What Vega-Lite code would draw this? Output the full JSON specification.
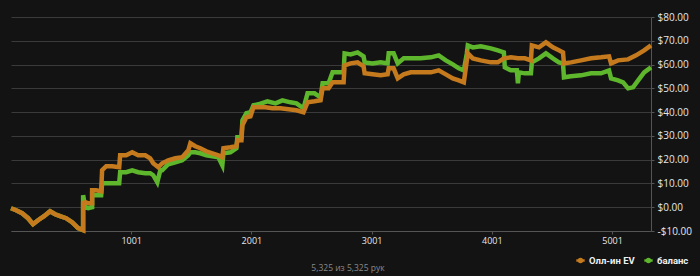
{
  "$schema": "https://vega.github.io/schema/vega-lite/v6.json",
  "width": 640,
  "height": 214,
  "autosize": {"type": "none"},
  "padding": {"left": 11, "top": 17, "right": 49, "bottom": 45},
  "background": "#131313",
  "title": {"text": "5,325 из 5,325 рук", "orient": "bottom", "anchor": "middle", "dx": 17, "offset": -3, "fontSize": 8.5, "fontWeight": "normal", "color": "#8a8a8a", "font": "Open Sans"},
  "config": {
    "view": {"stroke": null},
    "font": "Open Sans",
    "axis": {"labelFont": "Open Sans", "labelColor": "#e6e6e6", "labelFontSize": 10, "domainColor": "#555555", "tickColor": "#555555", "gridColor": "#3a3a3a", "title": null}
  },
  "datasets": {
    "hands": [
      {"hand": 1, "series": "Олл-ин EV", "value": -0.42},
      {"hand": 43, "series": "Олл-ин EV", "value": -1.26},
      {"hand": 93, "series": "Олл-ин EV", "value": -2.52},
      {"hand": 143, "series": "Олл-ин EV", "value": -4.62},
      {"hand": 184, "series": "Олл-ин EV", "value": -7.14},
      {"hand": 226, "series": "Олл-ин EV", "value": -5.46},
      {"hand": 276, "series": "Олл-ин EV", "value": -3.78},
      {"hand": 326, "series": "Олл-ин EV", "value": -1.68},
      {"hand": 368, "series": "Олл-ин EV", "value": -2.94},
      {"hand": 409, "series": "Олл-ин EV", "value": -3.78},
      {"hand": 459, "series": "Олл-ин EV", "value": -4.62},
      {"hand": 509, "series": "Олл-ин EV", "value": -6.30},
      {"hand": 559, "series": "Олл-ин EV", "value": -8.82},
      {"hand": 601, "series": "Олл-ин EV", "value": -9.66},
      {"hand": 601, "series": "Олл-ин EV", "value": 1.68},
      {"hand": 618, "series": "Олл-ин EV", "value": 2.10},
      {"hand": 643, "series": "Олл-ин EV", "value": 1.68},
      {"hand": 676, "series": "Олл-ин EV", "value": 1.68},
      {"hand": 676, "series": "Олл-ин EV", "value": 7.14},
      {"hand": 709, "series": "Олл-ин EV", "value": 7.14},
      {"hand": 751, "series": "Олл-ин EV", "value": 6.72},
      {"hand": 759, "series": "Олл-ин EV", "value": 15.55},
      {"hand": 793, "series": "Олл-ин EV", "value": 17.23},
      {"hand": 843, "series": "Олл-ин EV", "value": 17.23},
      {"hand": 901, "series": "Олл-ин EV", "value": 16.81},
      {"hand": 909, "series": "Олл-ин EV", "value": 21.85},
      {"hand": 959, "series": "Олл-ин EV", "value": 21.85},
      {"hand": 1009, "series": "Олл-ин EV", "value": 23.11},
      {"hand": 1059, "series": "Олл-ин EV", "value": 21.85},
      {"hand": 1118, "series": "Олл-ин EV", "value": 21.85},
      {"hand": 1159, "series": "Олл-ин EV", "value": 20.59},
      {"hand": 1184, "series": "Олл-ин EV", "value": 18.49},
      {"hand": 1226, "series": "Олл-ин EV", "value": 16.81},
      {"hand": 1259, "series": "Олл-ин EV", "value": 18.49},
      {"hand": 1309, "series": "Олл-ин EV", "value": 19.75},
      {"hand": 1368, "series": "Олл-ин EV", "value": 20.59},
      {"hand": 1426, "series": "Олл-ин EV", "value": 21.01},
      {"hand": 1476, "series": "Олл-ин EV", "value": 23.95},
      {"hand": 1493, "series": "Олл-ин EV", "value": 26.89},
      {"hand": 1534, "series": "Олл-ин EV", "value": 25.63},
      {"hand": 1576, "series": "Олл-ин EV", "value": 24.79},
      {"hand": 1626, "series": "Олл-ин EV", "value": 23.53},
      {"hand": 1676, "series": "Олл-ин EV", "value": 22.69},
      {"hand": 1726, "series": "Олл-ин EV", "value": 21.85},
      {"hand": 1759, "series": "Олл-ин EV", "value": 21.01},
      {"hand": 1768, "series": "Олл-ин EV", "value": 24.79},
      {"hand": 1826, "series": "Олл-ин EV", "value": 25.21},
      {"hand": 1876, "series": "Олл-ин EV", "value": 25.63},
      {"hand": 1884, "series": "Олл-ин EV", "value": 28.15},
      {"hand": 1918, "series": "Олл-ин EV", "value": 28.15},
      {"hand": 1926, "series": "Олл-ин EV", "value": 34.45},
      {"hand": 1959, "series": "Олл-ин EV", "value": 37.82},
      {"hand": 1993, "series": "Олл-ин EV", "value": 38.24},
      {"hand": 2018, "series": "Олл-ин EV", "value": 42.02},
      {"hand": 2059, "series": "Олл-ин EV", "value": 42.02},
      {"hand": 2118, "series": "Олл-ин EV", "value": 42.02},
      {"hand": 2176, "series": "Олл-ин EV", "value": 41.60},
      {"hand": 2243, "series": "Олл-ин EV", "value": 41.60},
      {"hand": 2309, "series": "Олл-ин EV", "value": 41.18},
      {"hand": 2376, "series": "Олл-ин EV", "value": 40.76},
      {"hand": 2434, "series": "Олл-ин EV", "value": 39.92},
      {"hand": 2468, "series": "Олл-ин EV", "value": 44.12},
      {"hand": 2526, "series": "Олл-ин EV", "value": 44.54},
      {"hand": 2576, "series": "Олл-ин EV", "value": 44.96},
      {"hand": 2593, "series": "Олл-ин EV", "value": 50.00},
      {"hand": 2643, "series": "Олл-ин EV", "value": 50.00},
      {"hand": 2676, "series": "Олл-ин EV", "value": 52.52},
      {"hand": 2768, "series": "Олл-ин EV", "value": 52.52},
      {"hand": 2776, "series": "Олл-ин EV", "value": 59.66},
      {"hand": 2826, "series": "Олл-ин EV", "value": 60.50},
      {"hand": 2884, "series": "Олл-ин EV", "value": 60.92},
      {"hand": 2934, "series": "Олл-ин EV", "value": 59.24},
      {"hand": 2943, "series": "Олл-ин EV", "value": 56.30},
      {"hand": 3009, "series": "Олл-ин EV", "value": 55.88},
      {"hand": 3076, "series": "Олл-ин EV", "value": 55.46},
      {"hand": 3134, "series": "Олл-ин EV", "value": 55.88},
      {"hand": 3143, "series": "Олл-ин EV", "value": 58.40},
      {"hand": 3184, "series": "Олл-ин EV", "value": 58.40},
      {"hand": 3218, "series": "Олл-ин EV", "value": 54.20},
      {"hand": 3268, "series": "Олл-ин EV", "value": 55.88},
      {"hand": 3326, "series": "Олл-ин EV", "value": 56.72},
      {"hand": 3409, "series": "Олл-ин EV", "value": 56.72},
      {"hand": 3493, "series": "Олл-ин EV", "value": 56.72},
      {"hand": 3559, "series": "Олл-ин EV", "value": 57.56},
      {"hand": 3618, "series": "Олл-ин EV", "value": 55.88},
      {"hand": 3676, "series": "Олл-ин EV", "value": 54.20},
      {"hand": 3726, "series": "Олл-ин EV", "value": 53.36},
      {"hand": 3768, "series": "Олл-ин EV", "value": 52.52},
      {"hand": 3801, "series": "Олл-ин EV", "value": 64.71},
      {"hand": 3843, "series": "Олл-ин EV", "value": 62.61},
      {"hand": 3909, "series": "Олл-ин EV", "value": 61.76},
      {"hand": 3993, "series": "Олл-ин EV", "value": 60.92},
      {"hand": 4051, "series": "Олл-ин EV", "value": 60.92},
      {"hand": 4101, "series": "Олл-ин EV", "value": 62.61},
      {"hand": 4159, "series": "Олл-ин EV", "value": 63.03},
      {"hand": 4218, "series": "Олл-ин EV", "value": 62.61},
      {"hand": 4276, "series": "Олл-ин EV", "value": 62.61},
      {"hand": 4326, "series": "Олл-ин EV", "value": 61.76},
      {"hand": 4334, "series": "Олл-ин EV", "value": 68.07},
      {"hand": 4393, "series": "Олл-ин EV", "value": 67.23},
      {"hand": 4451, "series": "Олл-ин EV", "value": 69.33},
      {"hand": 4509, "series": "Олл-ин EV", "value": 67.23},
      {"hand": 4559, "series": "Олл-ин EV", "value": 65.97},
      {"hand": 4593, "series": "Олл-ин EV", "value": 65.13},
      {"hand": 4601, "series": "Олл-ин EV", "value": 60.50},
      {"hand": 4659, "series": "Олл-ин EV", "value": 60.92},
      {"hand": 4743, "series": "Олл-ин EV", "value": 61.76},
      {"hand": 4826, "series": "Олл-ин EV", "value": 62.61},
      {"hand": 4909, "series": "Олл-ин EV", "value": 63.03},
      {"hand": 4976, "series": "Олл-ин EV", "value": 63.45},
      {"hand": 4993, "series": "Олл-ин EV", "value": 60.50},
      {"hand": 5051, "series": "Олл-ин EV", "value": 61.76},
      {"hand": 5134, "series": "Олл-ин EV", "value": 62.18},
      {"hand": 5201, "series": "Олл-ин EV", "value": 63.87},
      {"hand": 5268, "series": "Олл-ин EV", "value": 65.97},
      {"hand": 5325, "series": "Олл-ин EV", "value": 68.07},

      {"hand": 1, "series": "баланс", "value": -0.42},
      {"hand": 43, "series": "баланс", "value": -1.26},
      {"hand": 93, "series": "баланс", "value": -2.52},
      {"hand": 143, "series": "баланс", "value": -4.62},
      {"hand": 184, "series": "баланс", "value": -7.14},
      {"hand": 226, "series": "баланс", "value": -5.46},
      {"hand": 276, "series": "баланс", "value": -3.78},
      {"hand": 326, "series": "баланс", "value": -1.68},
      {"hand": 368, "series": "баланс", "value": -2.94},
      {"hand": 409, "series": "баланс", "value": -3.78},
      {"hand": 459, "series": "баланс", "value": -4.62},
      {"hand": 509, "series": "баланс", "value": -6.30},
      {"hand": 559, "series": "баланс", "value": -8.82},
      {"hand": 601, "series": "баланс", "value": -9.66},
      {"hand": 601, "series": "баланс", "value": 5.04},
      {"hand": 618, "series": "баланс", "value": 0},
      {"hand": 643, "series": "баланс", "value": -0.42},
      {"hand": 676, "series": "баланс", "value": 0},
      {"hand": 676, "series": "баланс", "value": 5.46},
      {"hand": 709, "series": "баланс", "value": 5.04},
      {"hand": 751, "series": "баланс", "value": 5.04},
      {"hand": 759, "series": "баланс", "value": 10.08},
      {"hand": 901, "series": "баланс", "value": 10.08},
      {"hand": 909, "series": "баланс", "value": 14.71},
      {"hand": 959, "series": "баланс", "value": 14.71},
      {"hand": 1009, "series": "баланс", "value": 15.55},
      {"hand": 1059, "series": "баланс", "value": 14.71},
      {"hand": 1118, "series": "баланс", "value": 14.29},
      {"hand": 1159, "series": "баланс", "value": 14.29},
      {"hand": 1184, "series": "баланс", "value": 13.45},
      {"hand": 1218, "series": "баланс", "value": 10.50},
      {"hand": 1243, "series": "баланс", "value": 15.55},
      {"hand": 1259, "series": "баланс", "value": 15.55},
      {"hand": 1309, "series": "баланс", "value": 18.07},
      {"hand": 1368, "series": "баланс", "value": 18.91},
      {"hand": 1426, "series": "баланс", "value": 19.75},
      {"hand": 1476, "series": "баланс", "value": 21.85},
      {"hand": 1493, "series": "баланс", "value": 23.11},
      {"hand": 1534, "series": "баланс", "value": 23.11},
      {"hand": 1576, "series": "баланс", "value": 22.69},
      {"hand": 1626, "series": "баланс", "value": 21.85},
      {"hand": 1676, "series": "баланс", "value": 21.43},
      {"hand": 1726, "series": "баланс", "value": 21.01},
      {"hand": 1759, "series": "баланс", "value": 17.65},
      {"hand": 1768, "series": "баланс", "value": 22.69},
      {"hand": 1826, "series": "баланс", "value": 23.11},
      {"hand": 1876, "series": "баланс", "value": 24.79},
      {"hand": 1884, "series": "баланс", "value": 29.41},
      {"hand": 1918, "series": "баланс", "value": 29.41},
      {"hand": 1926, "series": "баланс", "value": 36.55},
      {"hand": 1959, "series": "баланс", "value": 39.50},
      {"hand": 1993, "series": "баланс", "value": 39.92},
      {"hand": 2018, "series": "баланс", "value": 42.86},
      {"hand": 2059, "series": "баланс", "value": 43.28},
      {"hand": 2134, "series": "баланс", "value": 44.54},
      {"hand": 2201, "series": "баланс", "value": 43.70},
      {"hand": 2259, "series": "баланс", "value": 44.96},
      {"hand": 2326, "series": "баланс", "value": 44.12},
      {"hand": 2376, "series": "баланс", "value": 43.70},
      {"hand": 2434, "series": "баланс", "value": 41.60},
      {"hand": 2468, "series": "баланс", "value": 47.90},
      {"hand": 2526, "series": "баланс", "value": 47.90},
      {"hand": 2576, "series": "баланс", "value": 46.22},
      {"hand": 2593, "series": "баланс", "value": 52.10},
      {"hand": 2643, "series": "баланс", "value": 52.10},
      {"hand": 2676, "series": "баланс", "value": 56.72},
      {"hand": 2768, "series": "баланс", "value": 56.72},
      {"hand": 2776, "series": "баланс", "value": 64.71},
      {"hand": 2826, "series": "баланс", "value": 64.29},
      {"hand": 2884, "series": "баланс", "value": 65.13},
      {"hand": 2934, "series": "баланс", "value": 63.45},
      {"hand": 2943, "series": "баланс", "value": 60.92},
      {"hand": 3009, "series": "баланс", "value": 60.50},
      {"hand": 3076, "series": "баланс", "value": 60.92},
      {"hand": 3134, "series": "баланс", "value": 60.50},
      {"hand": 3143, "series": "баланс", "value": 64.71},
      {"hand": 3184, "series": "баланс", "value": 64.71},
      {"hand": 3218, "series": "баланс", "value": 60.50},
      {"hand": 3268, "series": "баланс", "value": 62.61},
      {"hand": 3326, "series": "баланс", "value": 62.61},
      {"hand": 3409, "series": "баланс", "value": 62.61},
      {"hand": 3493, "series": "баланс", "value": 63.03},
      {"hand": 3559, "series": "баланс", "value": 63.87},
      {"hand": 3618, "series": "баланс", "value": 61.76},
      {"hand": 3676, "series": "баланс", "value": 60.08},
      {"hand": 3726, "series": "баланс", "value": 58.40},
      {"hand": 3768, "series": "баланс", "value": 57.56},
      {"hand": 3793, "series": "баланс", "value": 64.71},
      {"hand": 3801, "series": "баланс", "value": 68.07},
      {"hand": 3843, "series": "баланс", "value": 67.23},
      {"hand": 3909, "series": "баланс", "value": 67.65},
      {"hand": 3993, "series": "баланс", "value": 66.81},
      {"hand": 4051, "series": "баланс", "value": 65.97},
      {"hand": 4101, "series": "баланс", "value": 65.13},
      {"hand": 4109, "series": "баланс", "value": 58.82},
      {"hand": 4159, "series": "баланс", "value": 57.56},
      {"hand": 4209, "series": "баланс", "value": 57.56},
      {"hand": 4218, "series": "баланс", "value": 52.10},
      {"hand": 4226, "series": "баланс", "value": 56.72},
      {"hand": 4276, "series": "баланс", "value": 56.30},
      {"hand": 4326, "series": "баланс", "value": 56.30},
      {"hand": 4334, "series": "баланс", "value": 60.92},
      {"hand": 4393, "series": "баланс", "value": 62.61},
      {"hand": 4451, "series": "баланс", "value": 64.71},
      {"hand": 4509, "series": "баланс", "value": 62.61},
      {"hand": 4559, "series": "баланс", "value": 60.92},
      {"hand": 4593, "series": "баланс", "value": 60.50},
      {"hand": 4601, "series": "баланс", "value": 54.62},
      {"hand": 4659, "series": "баланс", "value": 55.04},
      {"hand": 4743, "series": "баланс", "value": 55.46},
      {"hand": 4826, "series": "баланс", "value": 56.30},
      {"hand": 4909, "series": "баланс", "value": 56.30},
      {"hand": 4976, "series": "баланс", "value": 57.56},
      {"hand": 4993, "series": "баланс", "value": 54.20},
      {"hand": 5051, "series": "баланс", "value": 53.36},
      {"hand": 5093, "series": "баланс", "value": 52.52},
      {"hand": 5134, "series": "баланс", "value": 50.00},
      {"hand": 5176, "series": "баланс", "value": 50.42},
      {"hand": 5218, "series": "баланс", "value": 53.36},
      {"hand": 5268, "series": "баланс", "value": 56.72},
      {"hand": 5325, "series": "баланс", "value": 58.82}
    ]
  },
  "data": {"name": "hands"},
  "encoding": {
    "x": {"field": "hand", "type": "quantitative", "scale": {"domain": [1, 5325], "nice": false, "zero": false},
      "axis": {"values": [1001, 2001, 3001, 4001, 5001], "format": "d", "grid": false, "tickSize": 3, "labelPadding": 2, "labelFontSize": 9}},
    "y": {"field": "value", "type": "quantitative", "scale": {"domain": [-10, 80], "nice": false, "zero": false},
      "axis": {"orient": "right", "values": [-10, 0, 10, 20, 30, 40, 50, 60, 70, 80], "labelExpr": "(datum.value < 0 ? '-' : '') + '$' + format(abs(datum.value), '.2f')", "tickSize": 3, "labelPadding": 3, "grid": true}},
    "color": {"field": "series", "type": "nominal",
      "scale": {"domain": ["Олл-ин EV", "баланс"], "range": ["#c47a1d", "#5db62b"]},
      "legend": {"orient": "none", "legendX": 564, "legendY": 238, "direction": "horizontal", "title": null,
        "labelColor": "#f0f0f0", "labelFontSize": 9.5, "labelFontWeight": "bold", "labelFont": "Roboto",
        "symbolType": "M-1,0L1,0M-0.35,0A0.35,0.35 0 1 0 0.35,0A0.35,0.35 0 1 0 -0.35,0Z", "symbolSize": 70, "symbolStrokeWidth": 2.5, "columnPadding": 4, "labelOffset": 3}},
    "order": {"value": null}
  },
  "layer": [
    {"transform": [{"filter": "datum.series === 'баланс'"}], "mark": {"type": "line", "strokeWidth": 4.5, "strokeJoin": "miter"}},
    {"transform": [{"filter": "datum.series === 'Олл-ин EV'"}], "mark": {"type": "line", "strokeWidth": 4.5, "strokeJoin": "miter"}}
  ]
}
